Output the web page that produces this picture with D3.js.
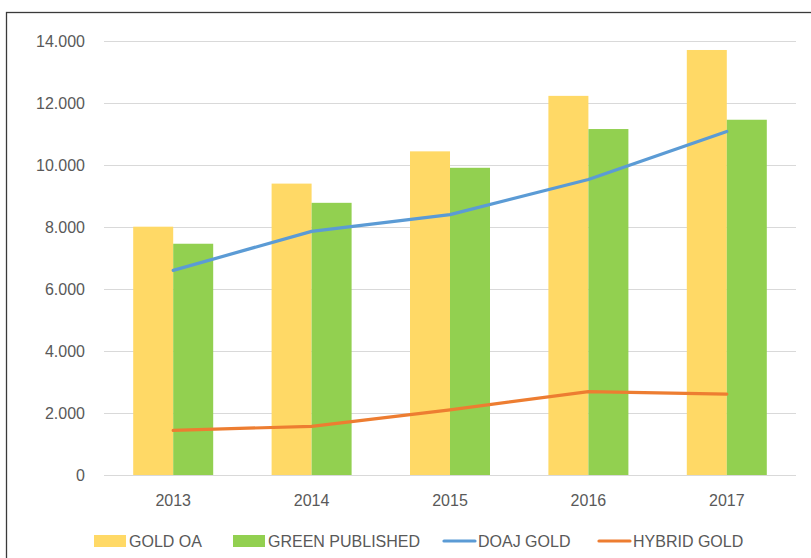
<!DOCTYPE html>
<html>
<head>
<meta charset="utf-8">
<script src="https://d3js.org/d3.v7.min.js"></script>
<style>
  body { margin: 0; background: #fff; }
  text { font-family: "Liberation Sans", Arial, sans-serif; fill: #595959; }
</style>
</head>
<body>
<div id="chart"></div>
<script>
// data
var years = ["2013", "2014", "2015", "2016", "2017"];
var goldOA = [8010, 9400, 10440, 12230, 13710];
var greenPublished = [7460, 8780, 9910, 11160, 11460];
var doajGold = [6600, 7860, 8400, 9530, 11080];
var hybridGold = [1440, 1570, 2100, 2690, 2610];
var yTicks = [0, 2000, 4000, 6000, 8000, 10000, 12000, 14000];

var width = 811, height = 558;
var margin = { top: 41, right: 15, bottom: 82, left: 104 };

var svg = d3.select("#chart").append("svg")
    .attr("width", width)
    .attr("height", height);

// chart frame (runs off the right and bottom edges in the reference)
svg.append("rect")
    .attr("x", 6.5).attr("y", 12.5)
    .attr("width", 900).attr("height", 700)
    .attr("fill", "none")
    .attr("stroke", "#3a3a3a")
    .attr("stroke-width", 1.3);

var x = d3.scaleBand()
    .domain(years)
    .range([margin.left, width - margin.right]);

var y = d3.scaleLinear()
    .domain([0, 14000])
    .range([height - margin.bottom - 1, margin.top]);

var fmt = function (d) { return d === 0 ? "0" : d3.format(",")(d).replace(",", "."); };

// gridlines
svg.append("g")
    .selectAll("line")
    .data(yTicks)
    .join("line")
    .attr("x1", margin.left).attr("x2", width - margin.right)
    .attr("y1", function (d) { return Math.round(y(d)) + 0.5; })
    .attr("y2", function (d) { return Math.round(y(d)) + 0.5; })
    .attr("stroke", "#d9d9d9")
    .attr("stroke-width", 1.2);

// y labels
svg.append("g")
    .selectAll("text")
    .data(yTicks)
    .join("text")
    .attr("x", 85)
    .attr("y", function (d) { return y(d); })
    .attr("dy", "0.35em")
    .attr("text-anchor", "end")
    .style("font-size", "16px")
    .text(fmt);

// bars
var barW = 40;
var bars = [
    { name: "GOLD OA", values: goldOA, color: "#FFD966", off: -barW },
    { name: "GREEN PUBLISHED", values: greenPublished, color: "#92D050", off: 0 }
];

bars.forEach(function (s) {
    svg.append("g")
        .selectAll("rect")
        .data(years)
        .join("rect")
        .attr("x", function (d) { return x(d) + x.bandwidth() / 2 + s.off; })
        .attr("width", barW)
        .attr("y", function (d, i) { return y(s.values[i]); })
        .attr("height", function (d, i) { return y(0) - y(s.values[i]); })
        .attr("fill", s.color);
});

// lines
var lines = [
    { name: "DOAJ GOLD", values: doajGold, color: "#5B9BD5" },
    { name: "HYBRID GOLD", values: hybridGold, color: "#ED7D31" }
];

var lineGen = d3.line()
    .x(function (d, i) { return x(years[i]) + x.bandwidth() / 2; })
    .y(function (d) { return y(d); });

lines.forEach(function (s) {
    svg.append("path")
        .datum(s.values)
        .attr("d", lineGen)
        .attr("fill", "none")
        .attr("stroke", s.color)
        .attr("stroke-width", 3.2)
        .attr("stroke-linejoin", "round")
        .attr("stroke-linecap", "round");
});

// x labels
svg.append("g")
    .selectAll("text")
    .data(years)
    .join("text")
    .attr("x", function (d) { return x(d) + x.bandwidth() / 2; })
    .attr("y", 500)
    .attr("dy", "0.35em")
    .attr("text-anchor", "middle")
    .style("font-size", "16px")
    .text(function (d) { return d; });

// legend
var legendY = 541;
var legend = [
    { name: "GOLD OA", color: "#FFD966", type: "bar", x: 94 },
    { name: "GREEN PUBLISHED", color: "#92D050", type: "bar", x: 233 },
    { name: "DOAJ GOLD", color: "#5B9BD5", type: "line", x: 443 },
    { name: "HYBRID GOLD", color: "#ED7D31", type: "line", x: 598 }
];

var lg = svg.append("g")
    .selectAll("g")
    .data(legend)
    .join("g")
    .attr("transform", function (d) { return "translate(" + d.x + "," + legendY + ")"; });

lg.filter(function (d) { return d.type === "bar"; })
    .append("rect")
    .attr("x", 0).attr("y", -6)
    .attr("width", 32).attr("height", 12)
    .attr("fill", function (d) { return d.color; });

lg.filter(function (d) { return d.type === "line"; })
    .append("line")
    .attr("x1", 1).attr("x2", 32)
    .attr("y1", 0).attr("y2", 0)
    .attr("stroke", function (d) { return d.color; })
    .attr("stroke-width", 3.2)
    .attr("stroke-linecap", "round");

lg.append("text")
    .attr("x", 35)
    .attr("y", 0)
    .attr("dy", "0.35em")
    .style("font-size", "16px")
    .text(function (d) { return d.name; });
</script>
</body>
</html>
